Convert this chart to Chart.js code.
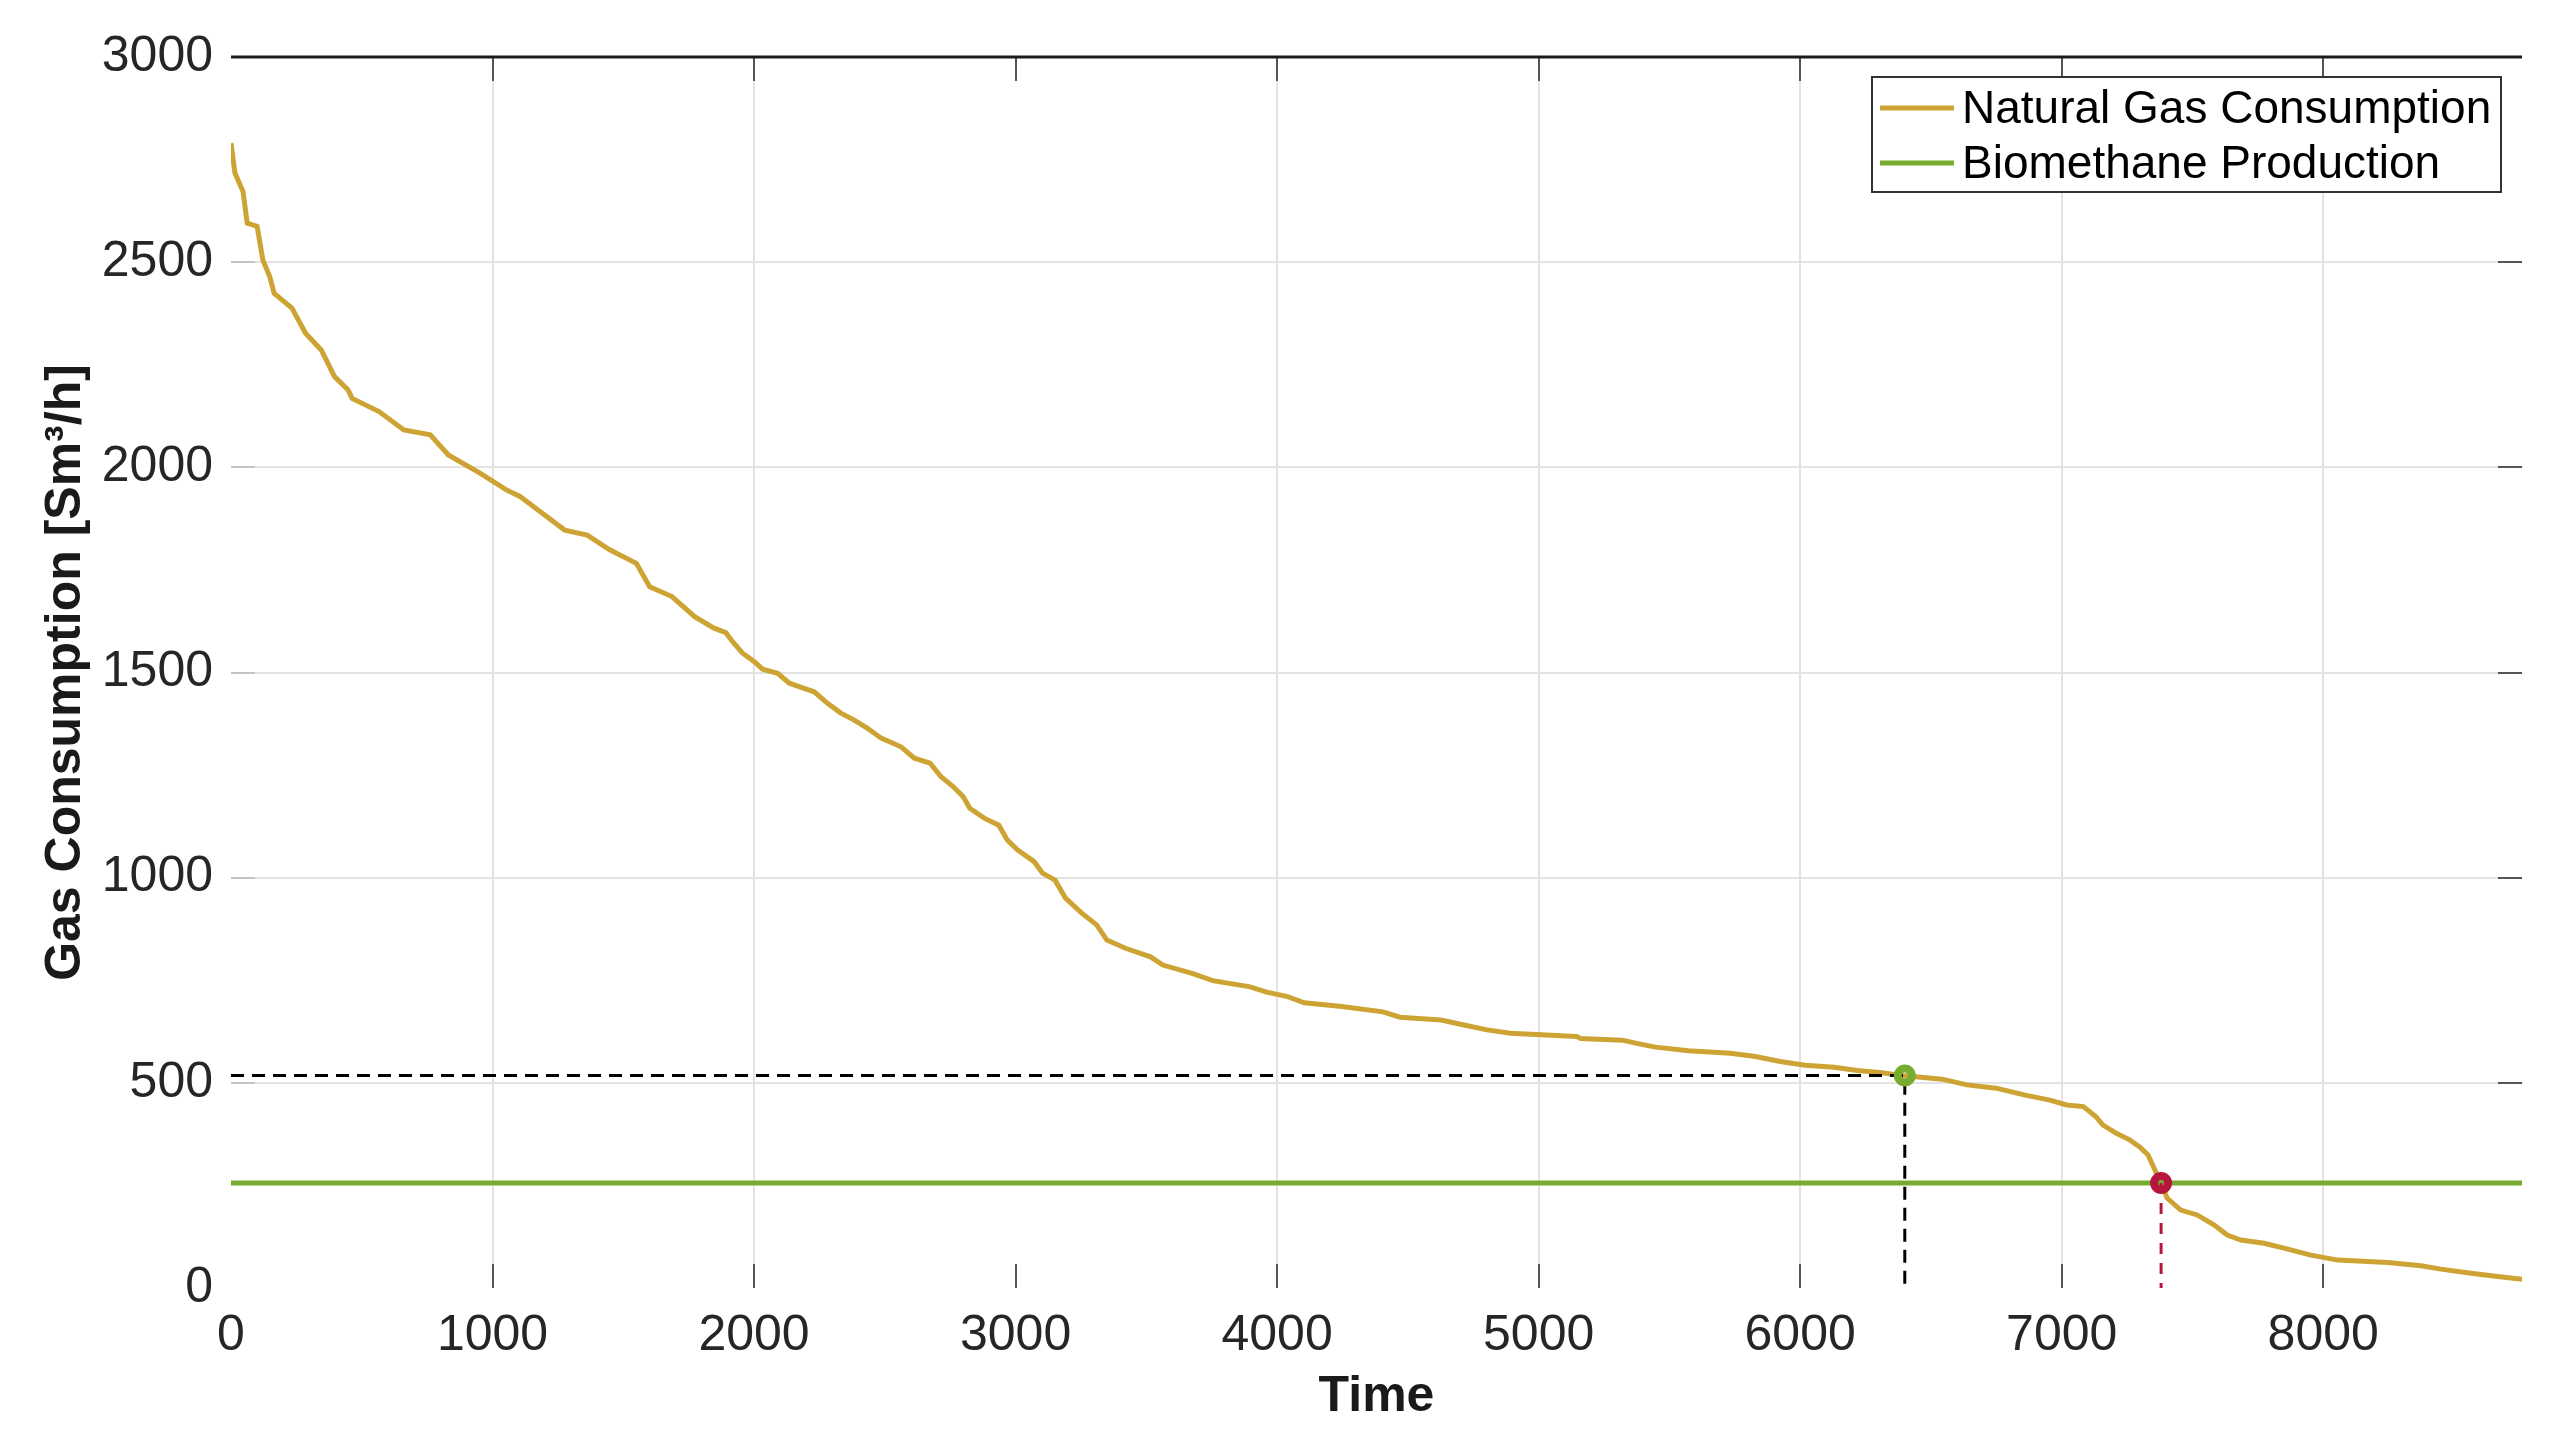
<!DOCTYPE html>
<html>
<head>
<meta charset="utf-8">
<title>Gas Consumption</title>
<script src="https://cdn.jsdelivr.net/npm/chart.js@4.4.1/dist/chart.umd.min.js"></script>
<style>
  html, body { margin: 0; padding: 0; background: #ffffff; }
  #wrap { width: 2575px; height: 1446px; }
</style>
</head>
<body>
<div id="wrap"><canvas id="gasChart" width="2575" height="1446"></canvas></div>
<script>
// ===============================
// Data
// ===============================
const hours = [
  0, 15, 46, 62, 100, 122, 148, 165, 233, 285, 345, 396, 447, 463, 566, 661, 762, 831, 952,
  1053, 1105, 1174, 1276, 1362, 1448, 1550, 1601, 1686, 1773, 1847, 1892, 1918, 1956,
  2000, 2033, 2090, 2135, 2180, 2230, 2281, 2332, 2383, 2434, 2486, 2562, 2613, 2673,
  2715, 2761, 2800, 2825, 2880, 2936, 2968, 3007, 3071, 3103, 3151, 3191, 3254, 3310,
  3349, 3420, 3516, 3563, 3675, 3754, 3897, 3960, 4040, 4104, 4247, 4405, 4470, 4627,
  4714, 4803, 4891, 5145, 5161, 5320, 5384, 5447, 5573, 5733, 5829, 5924, 6019, 6130,
  6218, 6305, 6400, 6543, 6638, 6750, 6860, 6955, 7019, 7083, 7130, 7158, 7209, 7260,
  7298, 7330, 7356, 7380, 7403, 7455, 7518, 7582, 7633, 7685, 7774, 7850, 7953, 8055,
  8246, 8374, 8450, 8565, 8667, 8760
];
const gasConsumption = [
  2790, 2717, 2672, 2595, 2587, 2505, 2465, 2424, 2388, 2327, 2286, 2221, 2189, 2168, 2136, 2091, 2079, 2030, 1986,
  1945, 1929, 1896, 1847, 1835, 1799, 1766, 1709, 1685, 1636, 1608, 1597, 1575, 1547,
  1527, 1508, 1498, 1474, 1464, 1453, 1425, 1401, 1384, 1364, 1340, 1319, 1291, 1279,
  1246, 1222, 1197, 1169, 1145, 1128, 1092, 1068, 1039, 1011, 994, 950, 913, 885,
  848, 828, 807, 787, 767, 749, 734, 721, 710, 695, 686, 673, 660, 653,
  641, 629, 621, 613, 608, 604, 595, 587, 578, 572, 564, 552, 543, 538,
  530, 525, 517, 509, 495, 487, 470, 458, 446, 442, 418, 397, 377, 361,
  344, 324, 288, 256, 219, 190, 178, 154, 129, 117, 109, 97, 80, 68,
  62, 54, 46, 36, 28, 21
];
const biomethaneRate = 256;
const matchPoint = [6400, 518];   // consumption equal to the black dashed level
const coverPoint = [7380, 256];   // consumption meets biomethane production
const xTickValues = [0, 1000, 2000, 3000, 4000, 5000, 6000, 7000, 8000];
const yTickValues = [0, 500, 1000, 1500, 2000, 2500, 3000];
const xMax = 8760;

const seriesLabels = ["Natural Gas Consumption", "Biomethane Production"];

const GOLD = "#CDA434";
const GREEN = "#77AC30";
const RED = "#B5173C";
const FONT = "'Liberation Sans', Arial, Helvetica, sans-serif";

document.addEventListener("DOMContentLoaded", function () {

  // ===============================
  // Eixo: linha superior + ticks internos (estilo MATLAB)
  // ===============================
  const frameTicks = {
    id: "frameTicks",
    afterDatasetsDraw(chart) {
      const { ctx, chartArea: a, scales } = chart;
      const len = 24;
      ctx.save();
      ctx.lineWidth = 2;
      // x ticks, bottom and top
      xTickValues.forEach((v) => {
        if (v === 0) return;
        const px = Math.round(scales.x.getPixelForValue(v));
        ctx.strokeStyle = "#555555";
        ctx.beginPath();
        ctx.moveTo(px, a.bottom); ctx.lineTo(px, a.bottom - len);
        ctx.moveTo(px, a.top); ctx.lineTo(px, a.top + len);
        ctx.stroke();
      });
      // y ticks, left and right
      yTickValues.forEach((v) => {
        if (v === 0 || v === 3000) return;
        const py = Math.round(scales.y.getPixelForValue(v));
        ctx.strokeStyle = "#c4c4c4";
        ctx.beginPath();
        ctx.moveTo(a.left, py); ctx.lineTo(a.left + len, py);
        ctx.stroke();
        ctx.strokeStyle = "#555555";
        ctx.beginPath();
        ctx.moveTo(a.right, py); ctx.lineTo(a.right - len, py);
        ctx.stroke();
      });
      // top border
      ctx.strokeStyle = "#1a1a1a";
      ctx.lineWidth = 3;
      ctx.beginPath();
      ctx.moveTo(a.left, a.top); ctx.lineTo(a.right, a.top);
      ctx.stroke();
      ctx.restore();
    }
  };

  // ===============================
  // Legenda dentro do gráfico (canto superior direito)
  // ===============================
  const boxLegend = {
    id: "boxLegend",
    afterDraw(chart) {
      const { ctx } = chart;
      const items = chart.data.datasets.filter((d) => d.inLegend);
      const x0 = 1872, y0 = 77, w = 629, h = 115;
      ctx.save();
      ctx.fillStyle = "#ffffff";
      ctx.fillRect(x0, y0, w, h);
      ctx.strokeStyle = "#333333";
      ctx.lineWidth = 2;
      ctx.strokeRect(x0, y0, w, h);
      ctx.font = "46px " + FONT;
      ctx.textBaseline = "middle";
      ctx.textAlign = "left";
      items.forEach((d, i) => {
        const y = y0 + 31 + i * 55;
        ctx.strokeStyle = d.borderColor;
        ctx.lineWidth = 5;
        ctx.beginPath();
        ctx.moveTo(x0 + 8, y); ctx.lineTo(x0 + 82, y);
        ctx.stroke();
        ctx.fillStyle = "#000000";
        ctx.fillText(d.label, x0 + 90, y + 2);
      });
      ctx.restore();
    }
  };

  const gasData = hours.map((h, i) => ({ x: h, y: gasConsumption[i] }));

  const datasets = [
    {
      label: seriesLabels[0], inLegend: true, order: 3,
      data: gasData, showLine: true, borderColor: GOLD, borderWidth: 5,
      pointRadius: 0, tension: 0
    },
    {
      label: seriesLabels[1], inLegend: true, order: 2,
      data: [{ x: 0, y: biomethaneRate }, { x: xMax, y: biomethaneRate }],
      showLine: true, borderColor: GREEN, borderWidth: 5, pointRadius: 0
    },
    {
      label: "match level", order: 1,
      data: [{ x: 0, y: matchPoint[1] }, { x: matchPoint[0], y: matchPoint[1] }, { x: matchPoint[0], y: 0 }],
      showLine: true, borderColor: "#000000", borderWidth: 3, borderDash: [13, 8], pointRadius: 0
    },
    {
      label: "cover level", order: 1,
      data: [{ x: coverPoint[0], y: coverPoint[1] }, { x: coverPoint[0], y: 0 }],
      showLine: true, borderColor: RED, borderWidth: 3, borderDash: [11, 9], pointRadius: 0
    },
    {
      label: "match point", order: 0,
      data: [{ x: matchPoint[0], y: matchPoint[1] }],
      showLine: false, pointRadius: 7, pointBorderWidth: 8, pointBorderColor: GREEN,
      pointBackgroundColor: "rgba(0,0,0,0)"
    },
    {
      label: "cover point", order: 0,
      data: [{ x: coverPoint[0], y: coverPoint[1] }],
      showLine: false, pointRadius: 7, pointBorderWidth: 8, pointBorderColor: RED,
      pointBackgroundColor: "rgba(0,0,0,0)"
    }
  ];

  const gridColor = (c) => (c.tick && (c.tick.value === 0 || c.tick.value === 3000))
    ? "rgba(0,0,0,0)" : "#e3e3e3";
  const plainLabel = (v) => String(v);

  new Chart(document.getElementById("gasChart"), {
    type: "scatter",
    data: { datasets: datasets },
    plugins: [frameTicks, boxLegend],
    options: {
      responsive: false,
      animation: false,
      devicePixelRatio: 1,
      events: [],
      layout: { padding: { top: 57, right: 53, left: 0, bottom: 0 } },
      plugins: { legend: { display: false }, tooltip: { enabled: false } },
      scales: {
        x: {
          type: "linear", min: 0, max: xMax,
          afterBuildTicks: (s) => { s.ticks = xTickValues.map((v) => ({ value: v })); },
          afterFit: (s) => { s.height = 158; },
          border: { display: false },
          grid: { color: gridColor, lineWidth: 2, drawTicks: false },
          ticks: { padding: 18, color: "#262626", font: { family: FONT, size: 50 }, maxRotation: 0, callback: plainLabel },
          title: {
            display: true, text: "Time", color: "#1a1a1a",
            font: { family: FONT, size: 50, weight: "bold" }, padding: { top: 0, bottom: 19 }
          }
        },
        y: {
          type: "linear", min: 0, max: 3000,
          afterBuildTicks: (s) => { s.ticks = yTickValues.map((v) => ({ value: v })); },
          afterFit: (s) => { s.width = 231; },
          border: { display: false },
          grid: { color: gridColor, lineWidth: 2, drawTicks: false },
          ticks: { padding: 18, color: "#262626", font: { family: FONT, size: 50 }, callback: plainLabel },
          title: {
            display: true, text: "Gas Consumption [Sm\u00b3/h]", color: "#1a1a1a",
            font: { family: FONT, size: 50, weight: "bold" }, padding: { top: 36, bottom: 0 }
          }
        }
      }
    }
  });
  console.log("chart drawn");
});
</script>
</body>
</html>
